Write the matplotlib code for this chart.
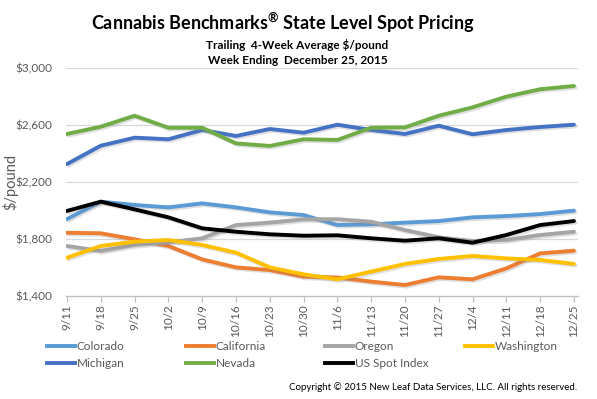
import matplotlib
matplotlib.use("Agg")
import matplotlib.pyplot as plt
from matplotlib import patheffects as pe
from matplotlib.lines import Line2D

plt.rcParams['font.family'] = ['Lato', 'DejaVu Sans']
plt.rcParams['mathtext.fontset'] = 'custom'
plt.rcParams['mathtext.rm'] = 'Lato'
plt.rcParams['mathtext.bf'] = 'Lato:bold'

weeks = ["9/11", "9/18", "9/25", "10/2", "10/9", "10/16", "10/23", "10/30",
         "11/6", "11/13", "11/20", "11/27", "12/4", "12/11", "12/18", "12/25"]

colorado   = [1940, 2062, 2039, 2022, 2050, 2022, 1987, 1968, 1898, 1903, 1915, 1926, 1952, 1961, 1975, 1999]
california = [1844, 1840, 1798, 1751, 1657, 1601, 1582, 1536, 1530, 1501, 1477, 1531, 1517, 1594, 1699, 1718]
oregon     = [1751, 1716, 1758, 1777, 1805, 1898, 1915, 1938, 1939, 1921, 1863, 1812, 1786, 1793, 1828, 1851]
washington = [1669, 1751, 1781, 1793, 1758, 1704, 1601, 1552, 1517, 1571, 1625, 1660, 1681, 1664, 1653, 1625]
michigan   = [2326, 2455, 2511, 2500, 2565, 2523, 2572, 2546, 2602, 2565, 2537, 2595, 2535, 2565, 2586, 2602]
nevada     = [2537, 2588, 2665, 2581, 2581, 2471, 2453, 2500, 2495, 2581, 2583, 2665, 2724, 2799, 2851, 2874]
us_spot    = [1997, 2062, 2008, 1952, 1875, 1851, 1833, 1823, 1826, 1805, 1788, 1805, 1774, 1828, 1898, 1926]

names = ["Colorado", "California", "Oregon", "Washington", "Michigan", "Nevada", "US Spot Index"]
series = [colorado, california, oregon, washington, michigan, nevada, us_spot]
colors = ["#5B9BD5", "#ED7D31", "#A5A5A5", "#FFC000", "#4472C4", "#70AD47", "#000000"]

yticks = [1400, 1800, 2200, 2600, 3000]

W, H = 597, 399
fig = plt.figure(figsize=(W / 100, H / 100), dpi=100)
ax = fig.add_axes([66 / W, 1 - 296 / H, (578 - 66) / W, (296 - 68) / H])

x = list(range(len(weeks)))
lines = {}
for name, vals, c in zip(names, series, colors):
    ln, = ax.plot(x, vals, color=c, lw=2.8, solid_capstyle='round', solid_joinstyle='round',
                  path_effects=[pe.SimpleLineShadow(offset=(1.2, -1.2), shadow_color='#808080', alpha=0.25),
                                pe.Normal()])
    lines[name] = ln

ax.set_ylim(1400, 3000)
ax.set_yticks(yticks)
ax.set_yticklabels(["${:,}".format(v) for v in yticks])
ax.set_xlim(-0.03, 15.12)
ax.set_xticks(x)
ax.set_xticklabels(weeks, rotation=90)

ax.grid(axis='y', color='#D9D9D9', lw=0.9)
ax.set_axisbelow(True)
for s in ['top', 'right', 'left']:
    ax.spines[s].set_visible(False)
ax.spines['bottom'].set_color('#BFBFBF')
ax.spines['bottom'].set_linewidth(0.9)
ax.tick_params(axis='y', length=0, pad=10, labelsize=8.5, labelcolor='#595959')
ax.tick_params(axis='x', length=4, width=0.9, color='#BFBFBF', pad=2, labelsize=8.5, labelcolor='#595959')

fig.text(10 / W, 1 - 182 / H, "$/pound", rotation=90, ha='center', va='center',
         fontsize=10.5, color='#595959')

fig.text(283 / W, 1 - 23 / H, r"Cannabis Benchmarks$^{\mathbf{®}}$ State Level Spot Pricing",
         ha='center', va='center', fontsize=13, fontweight='bold', color='#000000')
fig.text(297 / W, 1 - 45 / H, "Trailing  4-Week Average $/pound", ha='center', va='center',
         fontsize=8.5, fontweight='bold', color='#000000')
fig.text(298 / W, 1 - 60 / H, "Week Ending  December 25, 2015", ha='center', va='center',
         fontsize=8.5, fontweight='bold', color='#000000')

cols = [(47, ["Colorado", "Michigan"]), (186, ["California", "Nevada"]),
        (325, ["Oregon", "US Spot Index"]), (465, ["Washington"])]
for xp, nm in cols:
    handles = [Line2D([], [], color=lines[n].get_color(), lw=2.8) for n in nm]
    fig.legend(handles, nm, loc='upper left', bbox_to_anchor=(xp / W, 1 - 341 / H),
               frameon=False, fontsize=8.5, handlelength=2.4, handletextpad=0.1,
               labelspacing=0.55, borderpad=0, borderaxespad=0, labelcolor='#595959')

fig.text(577 / W, 1 - 387 / H, "Copyright \u00a9 2015 New Leaf Data Services, LLC. All rights reserved.",
         ha='right', va='center', fontsize=7, color='#000000')

fig.savefig("out.png", dpi=100)
